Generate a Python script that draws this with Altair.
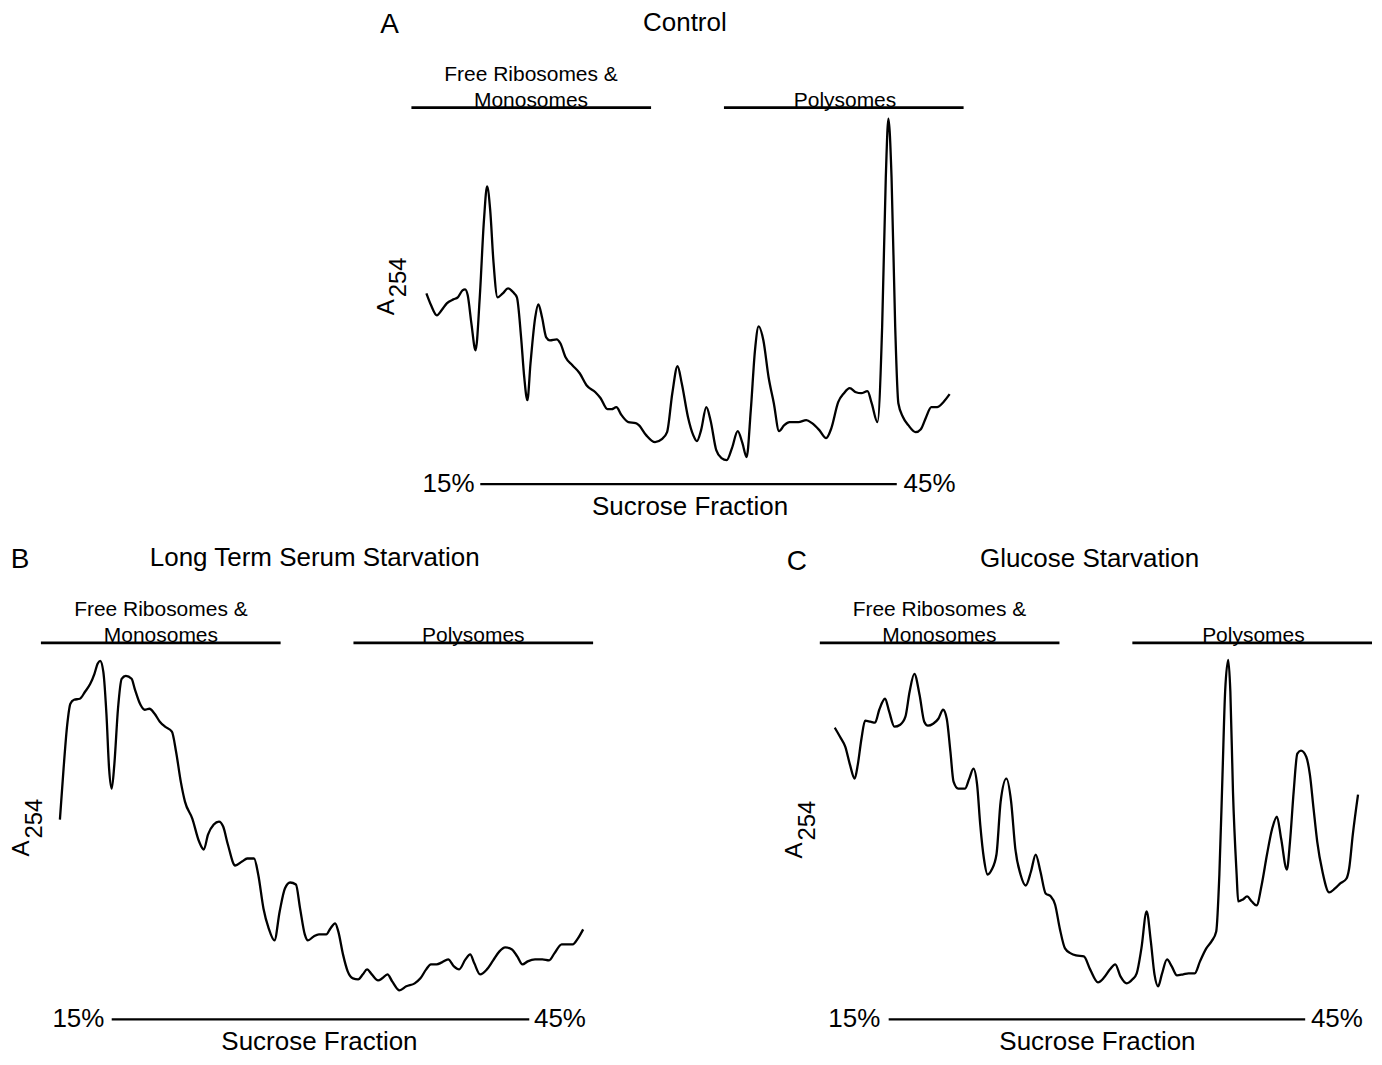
import altair as alt
import pandas as pd

# ---------------- data ----------------
# trace position along gradient (0-100 % of run) and A254 (arbitrary units)
control_trace = [
    (0.0, 1.91), (0.9, 1.79), (2.0, 1.69), (2.9, 1.74), (3.9, 1.81), (5.2, 1.85), (6.0, 1.87),
    (6.9, 1.94), (7.4, 1.95), (7.9, 1.89), (8.6, 1.61), (9.4, 1.34), (10.2, 1.87), (11.0, 2.64),
    (11.6, 2.98), (12.2, 2.74), (12.8, 2.24), (13.6, 1.87), (14.6, 1.91), (15.6, 1.96), (16.6, 1.92),
    (17.3, 1.87), (18.1, 1.47), (18.7, 1.07), (19.3, 0.84), (19.9, 1.21), (20.8, 1.67), (21.4, 1.80),
    (22.1, 1.67), (22.9, 1.47), (23.6, 1.44), (24.9, 1.45), (25.6, 1.41), (26.6, 1.27), (27.9, 1.19),
    (29.3, 1.11), (30.6, 0.99), (32.3, 0.92), (33.3, 0.86), (34.6, 0.75), (35.4, 0.75), (36.3, 0.77),
    (37.3, 0.69), (38.6, 0.62), (40.0, 0.61), (40.6, 0.59), (42.0, 0.49), (43.7, 0.42), (45.0, 0.45),
    (46.0, 0.52), (47.0, 0.91), (48.0, 1.18), (48.8, 1.01), (50.0, 0.67), (51.0, 0.49), (51.7, 0.43),
    (52.5, 0.54), (53.5, 0.77), (54.3, 0.64), (55.4, 0.34), (56.4, 0.26), (57.4, 0.24), (58.4, 0.36),
    (59.5, 0.53), (60.4, 0.41), (61.2, 0.27), (62.0, 0.74), (62.8, 1.34), (63.5, 1.58), (64.4, 1.44),
    (65.4, 1.07), (66.4, 0.81), (67.4, 0.53), (68.4, 0.59), (69.4, 0.62), (71.1, 0.62), (72.6, 0.64),
    (73.7, 0.61), (75.1, 0.54), (76.4, 0.46), (77.4, 0.56), (78.7, 0.82), (79.8, 0.91), (80.9, 0.96),
    (82.1, 0.92), (83.1, 0.91), (84.3, 0.93), (85.1, 0.81), (86.2, 0.62), (87.1, 1.57), (87.8, 3.07),
    (88.3, 3.66), (88.9, 3.07), (89.6, 1.57), (90.2, 0.81), (91.1, 0.67), (92.1, 0.59), (93.5, 0.52),
    (94.5, 0.55), (95.5, 0.67), (96.5, 0.77), (97.6, 0.77), (98.8, 0.82), (100.0, 0.90),
]

serum_trace = [
    (0.0, 2.00), (0.7, 2.51), (1.4, 2.95), (2.0, 3.16), (2.7, 3.20), (3.8, 3.21), (4.8, 3.28),
    (5.8, 3.36), (6.6, 3.46), (7.2, 3.56), (7.7, 3.59), (8.3, 3.48), (8.9, 3.05), (9.4, 2.51),
    (9.9, 2.31), (10.4, 2.55), (11.1, 3.11), (11.8, 3.41), (12.6, 3.44), (13.7, 3.41), (14.3, 3.31),
    (15.4, 3.15), (16.2, 3.10), (17.1, 3.11), (18.1, 3.06), (19.1, 2.98), (20.1, 2.93), (21.4, 2.88),
    (22.2, 2.68), (23.1, 2.38), (23.9, 2.18), (25.3, 2.01), (26.6, 1.78), (27.5, 1.70), (28.3, 1.85),
    (29.4, 1.95), (30.4, 1.98), (31.2, 1.93), (32.1, 1.75), (33.5, 1.54), (34.8, 1.58), (35.8, 1.61),
    (37.1, 1.61), (37.9, 1.45), (38.9, 1.11), (39.9, 0.91), (41.0, 0.79), (42.0, 1.08), (43.0, 1.31),
    (44.0, 1.37), (45.1, 1.35), (45.9, 1.11), (46.8, 0.85), (47.4, 0.79), (48.5, 0.83), (49.5, 0.85),
    (50.9, 0.85), (51.7, 0.91), (52.6, 0.96), (53.2, 0.88), (54.1, 0.65), (55.0, 0.48), (56.0, 0.41),
    (57.0, 0.40), (57.9, 0.45), (58.7, 0.50), (59.6, 0.45), (60.8, 0.39), (61.6, 0.41), (62.6, 0.45),
    (63.5, 0.38), (64.9, 0.29), (66.2, 0.33), (67.8, 0.36), (68.9, 0.41), (70.0, 0.50), (70.9, 0.55),
    (72.0, 0.55), (73.0, 0.57), (74.2, 0.60), (75.3, 0.53), (76.3, 0.50), (77.5, 0.60), (78.4, 0.65),
    (79.2, 0.56), (80.3, 0.45), (81.6, 0.50), (82.8, 0.59), (84.0, 0.68), (85.1, 0.72), (86.4, 0.70),
    (87.4, 0.63), (88.4, 0.55), (89.4, 0.58), (90.8, 0.60), (92.2, 0.60), (93.5, 0.59), (94.5, 0.66),
    (95.9, 0.75), (96.9, 0.75), (98.0, 0.75), (99.0, 0.81), (100.0, 0.90),
]

glucose_trace = [
    (0.0, 2.92), (1.0, 2.83), (2.0, 2.73), (2.9, 2.55), (3.8, 2.41), (4.4, 2.55), (5.1, 2.81),
    (5.8, 2.99), (6.8, 2.98), (7.7, 2.97), (8.5, 3.10), (9.6, 3.21), (10.4, 3.08), (11.4, 2.93),
    (12.5, 2.95), (13.5, 3.03), (14.3, 3.28), (15.2, 3.46), (16.2, 3.25), (17.1, 2.98), (17.8, 2.94),
    (18.8, 2.96), (19.8, 3.01), (20.7, 3.10), (21.4, 3.01), (22.1, 2.68), (22.7, 2.38), (23.6, 2.31),
    (24.9, 2.31), (25.7, 2.41), (26.5, 2.51), (27.2, 2.35), (27.8, 1.95), (28.5, 1.61), (29.2, 1.45),
    (30.0, 1.50), (30.9, 1.65), (31.7, 2.18), (32.8, 2.41), (33.7, 2.18), (34.5, 1.71), (35.5, 1.45),
    (36.5, 1.34), (37.5, 1.48), (38.4, 1.65), (39.3, 1.48), (40.3, 1.26), (41.3, 1.23), (42.1, 1.15),
    (43.0, 0.91), (44.0, 0.71), (45.1, 0.66), (46.1, 0.64), (47.6, 0.63), (48.8, 0.50), (50.3, 0.37),
    (51.5, 0.42), (52.6, 0.50), (53.6, 0.55), (54.6, 0.43), (55.8, 0.36), (56.9, 0.40), (57.7, 0.46),
    (58.6, 0.71), (59.6, 1.08), (60.4, 0.78), (61.1, 0.45), (61.8, 0.33), (62.5, 0.45), (63.5, 0.60),
    (64.4, 0.53), (65.4, 0.44), (66.6, 0.45), (67.6, 0.46), (68.8, 0.46), (69.8, 0.58), (71.0, 0.71),
    (72.0, 0.78), (72.9, 0.88), (73.5, 1.45), (74.1, 2.45), (74.6, 3.28), (75.2, 3.60), (75.6, 3.28),
    (76.1, 2.28), (76.8, 1.45), (77.1, 1.18), (78.0, 1.20), (78.8, 1.23), (79.7, 1.18), (80.6, 1.14),
    (81.6, 1.35), (82.6, 1.65), (83.6, 1.91), (84.5, 2.03), (85.3, 1.81), (86.4, 1.50), (87.0, 1.78),
    (87.7, 2.28), (88.4, 2.66), (89.1, 2.69), (90.1, 2.63), (90.8, 2.45), (91.5, 2.11), (92.2, 1.78),
    (93.2, 1.48), (94.5, 1.27), (95.6, 1.31), (96.6, 1.36), (97.8, 1.41), (98.3, 1.51), (99.0, 1.85),
    (100.0, 2.25),
]

panel_letters = ["A", "B", "C"]
panel_titles = ["Control", "Long Term Serum Starvation", "Glucose Starvation"]
region_labels = ["Free Ribosomes &", "Monosomes", "Polysomes"]
gradient_labels = ["15%", "45%"]
x_axis_title = "Sucrose Fraction"
y_axis_title = ["A", "254"]

# ---------------- layout ----------------
FONT = "Liberation Sans"
PX_PER_X = 5.24
X_MAX = 102.67
Y_DOM = [-0.32, 4.76]
H = 508

LAYOUT = {
    "A": dict(letter=(-7.06, 4.60), title=(49.4, 4.62), free=20.0, b1=(-2.86, 42.94),
              b2=(56.87, 102.67), poly=80.0, line=(10.3, 89.9), p15=9.2, p45=91.2,
              xt=50.4, yA=(-7.54, 1.77), y254=(-5.2, 2.07)),
    "B": dict(letter=(-7.63, 4.60), title=(48.7, 4.62), free=19.3, b1=(-3.63, 42.18),
              b2=(56.1, 101.9), poly=79.0, line=(9.9, 89.7), p15=8.5, p45=90.6,
              xt=49.6, yA=(-7.15, 1.71), y254=(-4.75, 2.01)),
    "C": dict(letter=(-7.25, 4.58), title=(48.7, 4.61), free=20.0, b1=(-2.86, 42.94),
              b2=(56.87, 102.67), poly=80.0, line=(10.3, 89.9), p15=8.7, p45=91.0,
              xt=50.2, yA=(-7.63, 1.69), y254=(-5.1, 1.99)),
}


def panel(trace, idx, xmin):
    letter = panel_letters[idx]
    L = LAYOUT[letter]
    xs = alt.Scale(domain=[xmin, X_MAX], nice=False, zero=False)
    ys = alt.Scale(domain=Y_DOM, nice=False, zero=False)

    def X(f):
        return alt.X(f, type="quantitative", scale=xs, axis=None)

    def Y(f):
        return alt.Y(f, type="quantitative", scale=ys, axis=None)

    df = pd.DataFrame(trace, columns=["fraction", "a254"])
    line = alt.Chart(df).mark_line(color="black", strokeWidth=2.3, interpolate="monotone").encode(
        x=X("fraction"), y=Y("a254")
    )

    brackets = pd.DataFrame(
        [(L["b1"][0], L["b1"][1], 3.77), (L["b2"][0], L["b2"][1], 3.77)], columns=["x", "x2", "y"]
    )
    br = alt.Chart(brackets).mark_rule(color="black", strokeWidth=2.6).encode(
        x=X("x"), x2="x2", y=Y("y")
    )
    grad = pd.DataFrame([(L["line"][0], L["line"][1], 0.0)], columns=["x", "x2", "y"])
    gr = alt.Chart(grad).mark_rule(color="black", strokeWidth=2.3).encode(x=X("x"), x2="x2", y=Y("y"))

    def txt(rows, size, align="center", angle=0):
        d = pd.DataFrame(rows, columns=["x", "y", "t"])
        mk = dict(font=FONT, fontSize=size, align=align, baseline="middle", color="black")
        if angle:
            mk["angle"] = angle
        return alt.Chart(d).mark_text(**mk).encode(x=X("x"), y=Y("y"), text="t:N")

    t_letter = txt([(L["letter"][0], L["letter"][1], letter)], 28)
    t_big = txt([
        (L["title"][0], L["title"][1], panel_titles[idx]),
        (L["xt"], -0.23, x_axis_title),
    ], 26)
    t_reg = txt([
        (L["free"], 4.10, region_labels[0]),
        (L["free"], 3.84, region_labels[1]),
        (L["poly"], 3.84, region_labels[2]),
    ], 21)
    t15 = txt([(L["p15"], 0.0, gradient_labels[0])], 26, align="right")
    t45 = txt([(L["p45"], 0.0, gradient_labels[1])], 26, align="left")
    tA = txt([(L["yA"][0], L["yA"][1], y_axis_title[0]),
              (L["y254"][0], L["y254"][1], y_axis_title[1])], 24, angle=270)

    return alt.layer(line, br, gr, t_letter, t_big, t_reg, t15, t45, tA).properties(
        width=round((X_MAX - xmin) * PX_PER_X), height=H
    )


pA = panel(control_trace, 0, -79.96)
pB = panel(serum_trace, 1, -9.92)
pC = panel(glucose_trace, 2, -9.92)

chart = (
    alt.vconcat(
        pA,
        alt.hconcat(pB, pC, spacing=186, bounds="flush"),
        spacing=28,
        bounds="flush",
    )
    .properties(padding=0)
    .configure_view(stroke=None)
)

chart.save("out.html", embed_options={"renderer": "svg", "actions": False})
